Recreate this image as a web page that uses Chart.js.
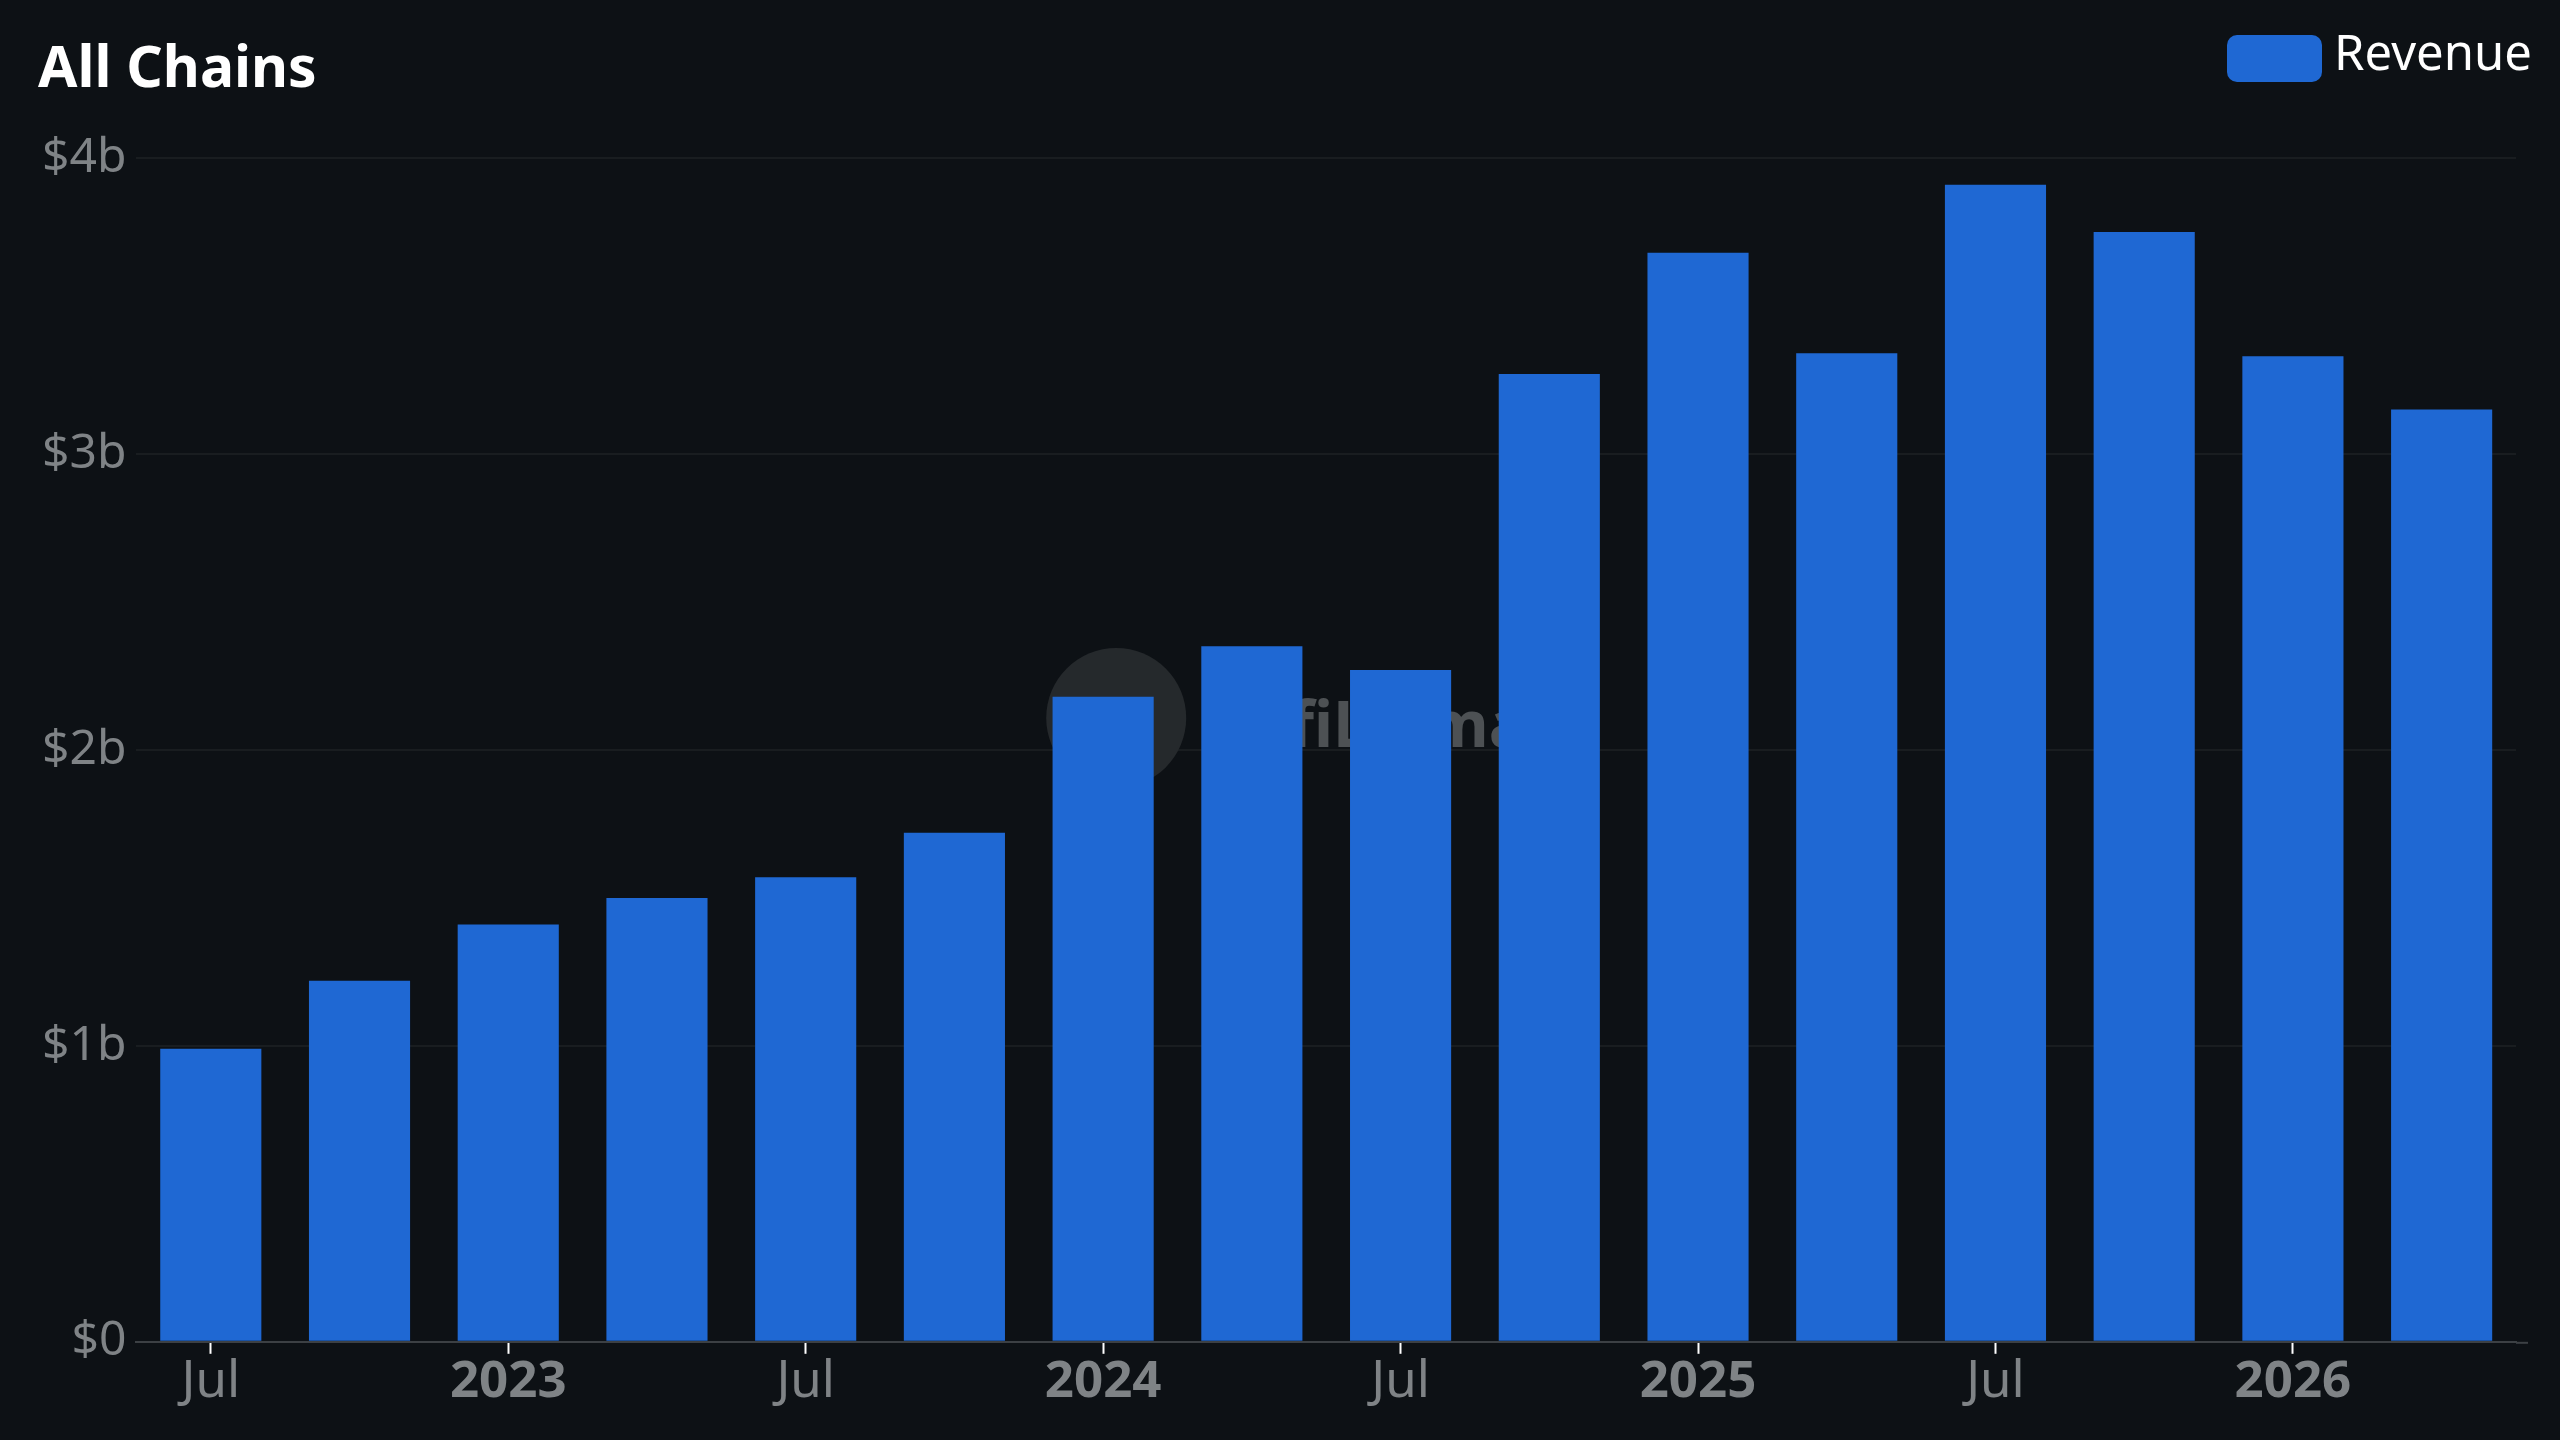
<!DOCTYPE html>
<html>
<head>
<meta charset="utf-8">
<script src="https://cdn.jsdelivr.net/npm/chart.js@4.4.1/dist/chart.umd.min.js"></script>
<style>
  html, body { margin: 0; padding: 0; background: #0d1115; }
  #wrap { width: 2560px; height: 1440px; position: relative; }
</style>
</head>
<body>
<div id="wrap"><canvas id="revChart" width="2560" height="1440"></canvas></div>
<script>
// quarterly revenue, all chains (billions USD)
const quarters = ['2022 Q3', '2022 Q4', '2023 Q1', '2023 Q2', '2023 Q3', '2023 Q4', '2024 Q1', '2024 Q2',
                  '2024 Q3', '2024 Q4', '2025 Q1', '2025 Q2', '2025 Q3', '2025 Q4', '2026 Q1', '2026 Q2'];
const revenue = [0.99, 1.22, 1.41, 1.50, 1.57, 1.72, 2.18, 2.35,
                 2.27, 3.27, 3.68, 3.34, 3.91, 3.75, 3.33, 3.15];
const xTickLabels = ['Jul', '', '2023', '', 'Jul', '', '2024', '', 'Jul', '', '2025', '', 'Jul', '', '2026', ''];
const yTicks = [0, 1, 2, 3, 4];

const FONT = "'Noto Sans', 'Open Sans', sans-serif";
const BAR = '#1f68d3';

// title on the left, legend on the right, same line
const header = {
    id: 'header',
    afterDraw(chart) {
        const ctx = chart.ctx;
        ctx.save();
        ctx.fillStyle = '#ffffff';
        ctx.font = 'bold 57px ' + FONT;
        ctx.textBaseline = 'alphabetic';
        ctx.fillText('All Chains', 38, 87);

        ctx.fillStyle = BAR;
        ctx.beginPath();
        ctx.roundRect(2227, 35, 95, 47, 10);
        ctx.fill();
        ctx.fillStyle = '#ffffff';
        ctx.font = '49px ' + FONT;
        ctx.textBaseline = 'middle';
        ctx.fillText(chart.data.datasets[0].label, 2334, 56);
        ctx.restore();
    }
};

// faint logo behind the bars
const watermark = {
    id: 'watermark',
    beforeDatasetsDraw(chart) {
        const a = chart.chartArea;
        const cx = (a.left + a.right) / 2, cy = (a.top + a.bottom) / 2;
        const ctx = chart.ctx;
        ctx.save();
        ctx.fillStyle = '#25292c';
        ctx.beginPath();
        ctx.arc(cx - 210, cy - 32, 70, 0, Math.PI * 2);
        ctx.fill();
        ctx.fillStyle = '#4d5154';
        ctx.font = 'bold 64px ' + FONT;
        ctx.textBaseline = 'alphabetic';
        ctx.fillText('DefiLlama', cx - 122, cy - 3);
        ctx.restore();
    },
    // x axis line runs a little past the last bar
    afterDraw(chart) {
        const a = chart.chartArea;
        const ctx = chart.ctx;
        ctx.save();
        ctx.strokeStyle = '#3c4044';
        ctx.lineWidth = 2;
        ctx.beginPath();
        ctx.moveTo(a.right, a.bottom + 1);
        ctx.lineTo(a.right + 12, a.bottom + 1);
        ctx.stroke();
        ctx.restore();
    }
};

const ctx = document.getElementById('revChart').getContext('2d');
new Chart(ctx, {
    type: 'bar',
    data: {
        labels: quarters,
        datasets: [{ label: 'Revenue', data: revenue, backgroundColor: BAR, borderWidth: 0,
                     barPercentage: 0.68, categoryPercentage: 1.0 }]
    },
    options: {
        responsive: false,
        animation: false,
        layout: { padding: { top: 158, left: 32, right: 44, bottom: 29 } },
        plugins: {
            title: { display: false },
            tooltip: { enabled: false },
            legend: { display: false }
        },
        scales: {
            x: {
                grid: {
                    offset: false, drawOnChartArea: false, tickLength: 12, tickWidth: 2,
                    tickColor: c => xTickLabels[c.index] ? '#ffffff' : 'rgba(0,0,0,0)'
                },
                border: { color: '#3c4044', width: 2 },
                ticks: {
                    autoSkip: false, maxRotation: 0, padding: -2, color: '#7f8386',
                    callback: (v, i) => xTickLabels[i],
                    font: c => ({ family: FONT, size: 51, weight: /^\d/.test(xTickLabels[c.index] || '') ? 'bold' : 'normal' })
                }
            },
            y: {
                min: 0, max: 4,
                afterBuildTicks: s => { s.ticks = yTicks.map(v => ({ value: v })); },
                grid: { color: 'rgba(255,255,255,0.05)', drawTicks: false, lineWidth: 2 },
                border: { display: false },
                ticks: {
                    color: '#7f8386', padding: 10, font: { family: FONT, size: 48 },
                    callback: v => v === 0 ? '$0' : '$' + v + 'b'
                }
            }
        }
    },
    plugins: [header, watermark]
});
</script>
</body>
</html>
